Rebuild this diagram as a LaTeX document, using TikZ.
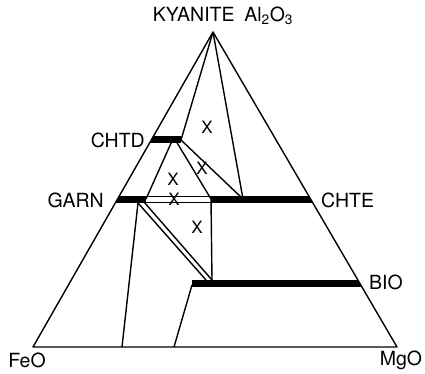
\documentclass[tikz,border=0pt]{standalone}
\usepackage{fontspec}
\setmainfont{TeX Gyre Heros}
\usetikzlibrary{positioning}

\begin{document}
\begin{tikzpicture}[x=1pt,y=-1pt,
  tie/.style={line width=1.4pt},
  phase/.style={font=\fontsize{19.5}{19.5}\selectfont,inner sep=1pt},
  cross/.style={font=\fontsize{17}{17}\selectfont,inner sep=0pt}]
  \useasboundingbox (0,0) rectangle (425,374);

  % Corners of the triangle
  \coordinate (al) at (213,32);
  \coordinate (fe) at (33,347);
  \coordinate (mg) at (397,347);

  % Ends of the tie lines
  \coordinate (chtdA) at (172,141);
  \coordinate (chtdM) at (176,141);
  \coordinate (chtdB) at (181,140);
  \coordinate (garnA) at (146,199);
  \coordinate (garnB) at (211,199);
  \coordinate (garnC) at (243,199);
  \coordinate (garnD) at (138,203);
  \coordinate (garnE) at (144,202);
  \coordinate (bioA) at (206,280);
  \coordinate (bioB) at (212,280);
  \coordinate (bioC) at (192,285);
  \coordinate (feoA) at (122,347);
  \coordinate (feoB) at (174,347);

  % Solid solution bands
  \begin{scope}
    \clip (al) -- (fe) -- (mg) -- cycle;
    \fill (100,136.5) rectangle (181,143);
    \fill (100,195.5) rectangle (146,203);
    \fill (211,195.5) rectangle (330,203);
    \fill (192,279.5) rectangle (380,287);
  \end{scope}
  \draw[line width=0.9pt] (146,196) -- (211,196) (146,202.5) -- (211,202.5);

  % Triangle
  \draw[tie,line join=round] (al) -- (fe) -- (mg) -- cycle;

  % Tie lines
  \draw[tie] (al) -- (chtdB);
  \draw[tie] (al) -- (garnC);
  \draw[tie] (chtdB) -- (garnC);
  \draw[tie] (chtdM) -- (garnB);
  \draw[tie] (chtdA) -- (garnA);
  \draw[tie] (garnD) -- (feoA);
  \draw[tie] (garnD) -- (bioA);
  \draw[tie] (garnE) -- (bioB);
  \draw[tie] (garnB) -- (bioB);
  \draw[tie] (bioC) -- (feoB);

  % Labels
  \node[phase] (kya) at (223,16) {KYANITE\hspace{0.5em}Al\textsubscript{2}O\textsubscript{3}};
  \node[phase,anchor=east] (chtd) at (146,140) {CHTD};
  \node[phase,anchor=east] (garn) at (105,200) {GARN};
  \node[phase,anchor=west] (chte) at (320,200) {CHTE};
  \node[phase,anchor=west] (bio) at (368,282) {BIO};
  \node[phase] (feo) at (27,360) {FeO};
  \node[phase] (mgo) at (401,360) {MgO};

  % Assemblages seen
  \node[cross] (x1) at (207,127) {X};
  \node[cross] (x2) at (173,179) {X};
  \node[cross] (x3) at (202,168) {X};
  \node[cross] (x4) at (174,199) {X};
  \node[cross] (x5) at (197,227) {X};
\end{tikzpicture}
\end{document}
